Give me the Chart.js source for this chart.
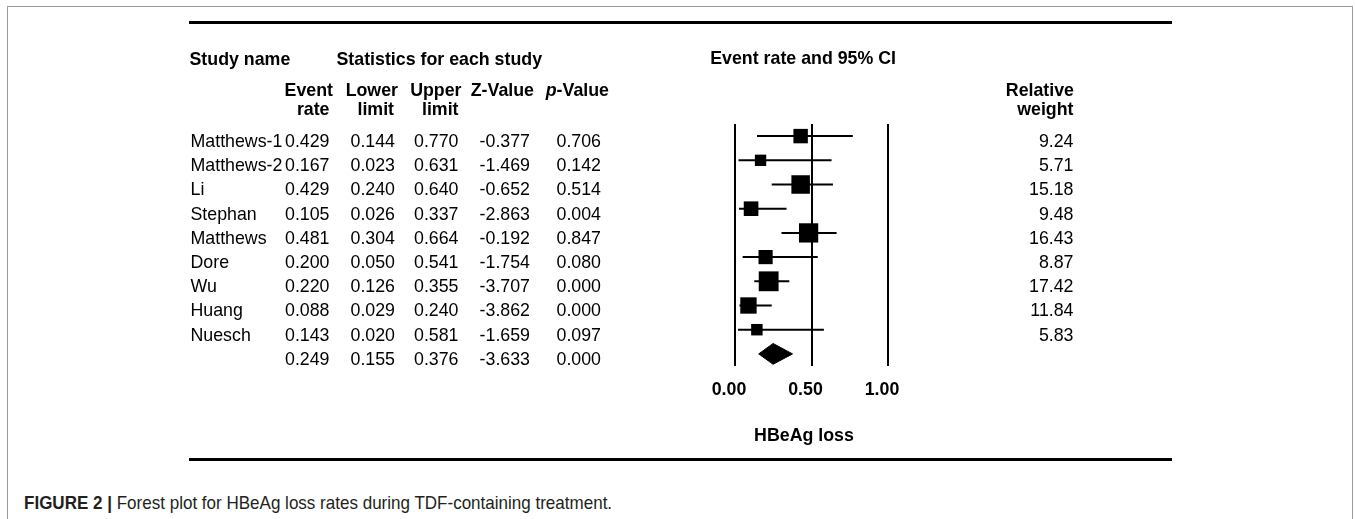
<!DOCTYPE html>
<html>
<head>
<meta charset="utf-8">
<script src="https://cdn.jsdelivr.net/npm/chart.js@4.4.1/dist/chart.umd.min.js"></script>
<style>
html,body{margin:0;padding:0;background:#fff;width:1355px;height:519px;overflow:hidden;}
#frame{position:absolute;left:7px;top:6px;width:1346px;height:600px;border:1px solid #9a9a9a;box-sizing:border-box;}
.rule{position:absolute;left:189px;width:983px;height:2.5px;background:#000;}
#caption{position:absolute;left:24px;top:492px;font-family:"Liberation Sans",Arial,sans-serif;font-size:18.5px;color:#231f20;white-space:nowrap;transform:scaleX(0.92);transform-origin:0 0;}
#wrap{position:absolute;left:0;top:0;width:1355px;height:519px;}
</style>
</head>
<body>
<div id="frame"></div>
<div class="rule" style="top:21px"></div>
<div class="rule" style="top:458px"></div>
<div id="caption"><b>FIGURE 2 |</b> Forest plot for HBeAg loss rates during TDF-containing treatment.</div>
<div id="wrap"><canvas id="c" width="1355" height="519"></canvas></div>
<script>
// ---- data ----
const studies    = ['Matthews-1','Matthews-2','Li','Stephan','Matthews','Dore','Wu','Huang','Nuesch'];
const eventRate  = [0.429, 0.167, 0.429, 0.105, 0.481, 0.200, 0.220, 0.088, 0.143];
const lowerLimit = [0.144, 0.023, 0.240, 0.026, 0.304, 0.050, 0.126, 0.029, 0.020];
const upperLimit = [0.770, 0.631, 0.640, 0.337, 0.664, 0.541, 0.355, 0.240, 0.581];
const zValue     = [-0.377, -1.469, -0.652, -2.863, -0.192, -1.754, -3.707, -3.862, -1.659];
const pValue     = [0.706, 0.142, 0.514, 0.004, 0.847, 0.080, 0.000, 0.000, 0.097];
const relWeight  = [9.24, 5.71, 15.18, 9.48, 16.43, 8.87, 17.42, 11.84, 5.83];
const summaryRate  = 0.249;
const summaryLower = 0.155;
const summaryUpper = 0.376;
const summaryZ     = -3.633;
const summaryP     = 0.000;
const xTickValues  = [0, 0.5, 1];
const xTickLabels  = ['0.00', '0.50', '1.00'];
const xAxisTitle   = 'HBeAg loss';

// ---- chart ----
const FONT = '"Liberation Sans", Arial, Helvetica, sans-serif';
const FS = 17.8;
const summaryRow = studies.length;

const ciDatasets = studies.map((s, i) => ({
  label: s + ' CI',
  data: [{x: lowerLimit[i], y: i}, {x: upperLimit[i], y: i}],
  showLine: true, borderColor: '#000', borderWidth: 2, pointRadius: 0,
  borderCapStyle: 'butt', order: 2, clip: false
}));

const squares = {
  label: 'Event rate',
  data: eventRate.map((v, i) => ({x: v, y: i})),
  pointStyle: 'rect',
  pointRadius: relWeight.map(w => 4.75 * Math.sqrt(w) / Math.SQRT2),
  pointHoverRadius: relWeight.map(w => 4.75 * Math.sqrt(w) / Math.SQRT2),
  backgroundColor: '#000', borderWidth: 0, showLine: false, order: 0, clip: false
};

const dh = 0.43;
const diamond = {
  label: 'Summary',
  data: [
    {x: summaryLower, y: summaryRow},
    {x: summaryRate, y: summaryRow - dh},
    {x: summaryUpper, y: summaryRow},
    {x: summaryRate, y: summaryRow + dh},
    {x: summaryLower, y: summaryRow}
  ],
  showLine: true, fill: 'shape', backgroundColor: '#000', borderColor: '#000',
  borderWidth: 1, pointRadius: 0, tension: 0, order: 1, clip: false
};

function fmt(v, d) { return v.toFixed(d); }

const tablePlugin = {
  id: 'forestTable',
  afterDraw(chart) {
    const ctx = chart.ctx, ys = chart.scales.y, xs = chart.scales.x;
    const bold = 'bold ' + FS + 'px ' + FONT;
    const reg = FS + 'px ' + FONT;
    ctx.save();
    ctx.fillStyle = '#000';
    ctx.textBaseline = 'alphabetic';

    // headers
    ctx.font = bold;
    ctx.textAlign = 'left';
    ctx.fillText('Study name', 189.5, 65);
    ctx.fillText('Statistics for each study', 336.5, 65);
    ctx.textAlign = 'right';
    ctx.fillText('Event rate and 95% CI', 896, 64);
    ctx.fillText('Event', 333, 96);
    ctx.fillText('rate', 329.5, 115);
    ctx.fillText('Lower', 398, 96);
    ctx.fillText('limit', 394, 115);
    ctx.fillText('Upper', 461.5, 96);
    ctx.fillText('limit', 458.5, 115);
    ctx.fillText('Z-Value', 534, 96);
    const pv = '-Value';
    ctx.fillText(pv, 609, 96);
    const w = ctx.measureText(pv).width;
    ctx.font = 'italic bold ' + FS + 'px ' + FONT;
    ctx.fillText('p', 609 - w, 96);
    ctx.font = bold;
    ctx.fillText('Relative', 1074, 96);
    ctx.fillText('weight', 1073.5, 115);

    // rows
    ctx.font = reg;
    const cols = [329.5, 395, 458.5, 530, 601];
    for (let i = 0; i < studies.length; i++) {
      const y = ys.getPixelForValue(i) + 10.8;
      ctx.textAlign = 'left';
      ctx.fillText(studies[i], 190.5, y);
      ctx.textAlign = 'right';
      const vals = [fmt(eventRate[i], 3), fmt(lowerLimit[i], 3), fmt(upperLimit[i], 3), fmt(zValue[i], 3), fmt(pValue[i], 3)];
      vals.forEach((t, k) => ctx.fillText(t, cols[k], y));
      ctx.fillText(fmt(relWeight[i], 2), 1073.5, y);
    }
    const ys9 = ys.getPixelForValue(summaryRow) + 10.8;
    ctx.textAlign = 'right';
    [fmt(summaryRate, 3), fmt(summaryLower, 3), fmt(summaryUpper, 3), fmt(summaryZ, 3), fmt(summaryP, 3)]
      .forEach((t, k) => ctx.fillText(t, cols[k], ys9));

    // x tick labels and axis title
    ctx.font = bold;
    ctx.textAlign = 'center';
    xTickValues.forEach((v, k) => ctx.fillText(xTickLabels[k], xs.getPixelForValue(v) - 6, 395));
    ctx.fillText(xAxisTitle, xs.getPixelForValue(0.5) - 7.5, 441);
    ctx.restore();
  }
};

new Chart(document.getElementById('c'), {
  type: 'scatter',
  data: { datasets: [squares, diamond, ...ciDatasets] },
  options: {
    responsive: false,
    animation: false,
    devicePixelRatio: 1,
    events: [],
    layout: { padding: { left: 735, right: 467, top: 124, bottom: 153 } },
    plugins: { legend: { display: false }, tooltip: { enabled: false } },
    scales: {
      x: {
        type: 'linear', min: 0, max: 1,
        afterBuildTicks: (scale) => { scale.ticks = xTickValues.map(v => ({value: v})); },
        afterFit: (scale) => { scale.height = 0; },
        grid: { color: '#000', lineWidth: 2, drawTicks: false, drawOnChartArea: true },
        border: { display: false },
        ticks: { display: false }
      },
      y: {
        type: 'linear', min: -0.5, max: summaryRow + 0.5, reverse: true, display: false
      }
    }
  },
  plugins: [tablePlugin]
});
</script>
</body>
</html>
